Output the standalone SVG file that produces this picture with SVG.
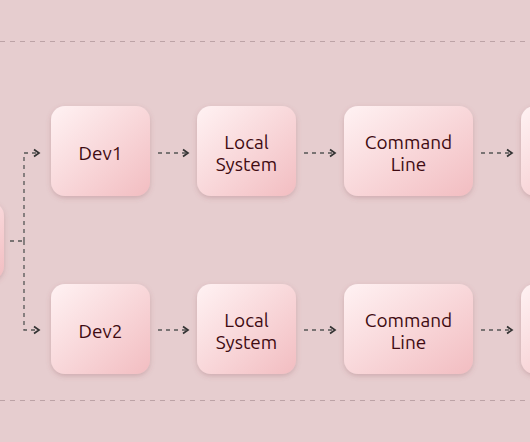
<svg xmlns="http://www.w3.org/2000/svg" width="530" height="442" viewBox="0 0 530 442">
<defs>
<linearGradient id="ng" x1="0" y1="0" x2="1" y2="1">
<stop offset="0" stop-color="#fff2f3"/>
<stop offset="1" stop-color="#f2bdc1"/>
</linearGradient>
<filter id="sh" x="-20%" y="-20%" width="140%" height="150%">
<feDropShadow dx="0" dy="2" stdDeviation="2.5" flood-color="#8a4a50" flood-opacity="0.25"/>
</filter>
<marker id="ah" viewBox="0 0 10 10" refX="8" refY="5" markerWidth="10" markerHeight="10" markerUnits="userSpaceOnUse" orient="auto">
<path d="M3,1.5 L8,5 L3,8.5" fill="none" stroke="#333" stroke-width="1.7"/>
</marker>
<style>
.node rect{fill:url(#ng);filter:url(#sh)}
.node text{font-family:"Ubuntu","Noto Sans","Open Sans",sans-serif;font-size:19px;fill:#3f0b12;text-anchor:middle}
.edge{fill:none;stroke:#555;stroke-width:1.3;stroke-dasharray:4 4}
.sep{fill:none;stroke:#bca3a6;stroke-width:1;stroke-dasharray:5 5}
</style>
</defs>
<rect width="530" height="442" fill="#e6cdcf"/>
<line class="sep" x1="0" y1="41.5" x2="530" y2="41.5"/>
<line class="sep" x1="0" y1="400.5" x2="530" y2="400.5"/>
<g id="connectors">
<path class="edge" d="M10,241 H24"/>
<path class="edge" d="M24,241 V153 H39" marker-end="url(#ah)"/>
<path class="edge" d="M24,241 V330 H39" marker-end="url(#ah)"/>
<path class="edge" d="M158,153 H188" marker-end="url(#ah)"/>
<path class="edge" d="M304,153 H335" marker-end="url(#ah)"/>
<path class="edge" d="M481,153 H512" marker-end="url(#ah)"/>
<path class="edge" d="M158,330 H188" marker-end="url(#ah)"/>
<path class="edge" d="M304,330 H335" marker-end="url(#ah)"/>
<path class="edge" d="M481,330 H512" marker-end="url(#ah)"/>
</g>
<g id="src" class="node"><rect x="-95" y="202" width="99" height="78" rx="14"/></g>
<g id="dev1" class="node"><rect x="51" y="106" width="99" height="90" rx="14"/><text x="100.5" y="160">Dev1</text></g>
<g id="local1" class="node"><rect x="197" y="106" width="99" height="90" rx="14"/><text x="246.5" y="149">Local</text><text x="246.5" y="171">System</text></g>
<g id="cmd1" class="node"><rect x="344" y="106" width="129" height="90" rx="14"/><text x="408.5" y="149">Command</text><text x="408.5" y="171">Line</text></g>
<g id="next1" class="node"><rect x="521" y="106" width="99" height="90" rx="14"/></g>
<g id="dev2" class="node"><rect x="51" y="284" width="99" height="90" rx="14"/><text x="100.5" y="338">Dev2</text></g>
<g id="local2" class="node"><rect x="197" y="284" width="99" height="90" rx="14"/><text x="246.5" y="327">Local</text><text x="246.5" y="349">System</text></g>
<g id="cmd2" class="node"><rect x="344" y="284" width="129" height="90" rx="14"/><text x="408.5" y="327">Command</text><text x="408.5" y="349">Line</text></g>
<g id="next2" class="node"><rect x="521" y="284" width="99" height="90" rx="14"/></g>
</svg>
